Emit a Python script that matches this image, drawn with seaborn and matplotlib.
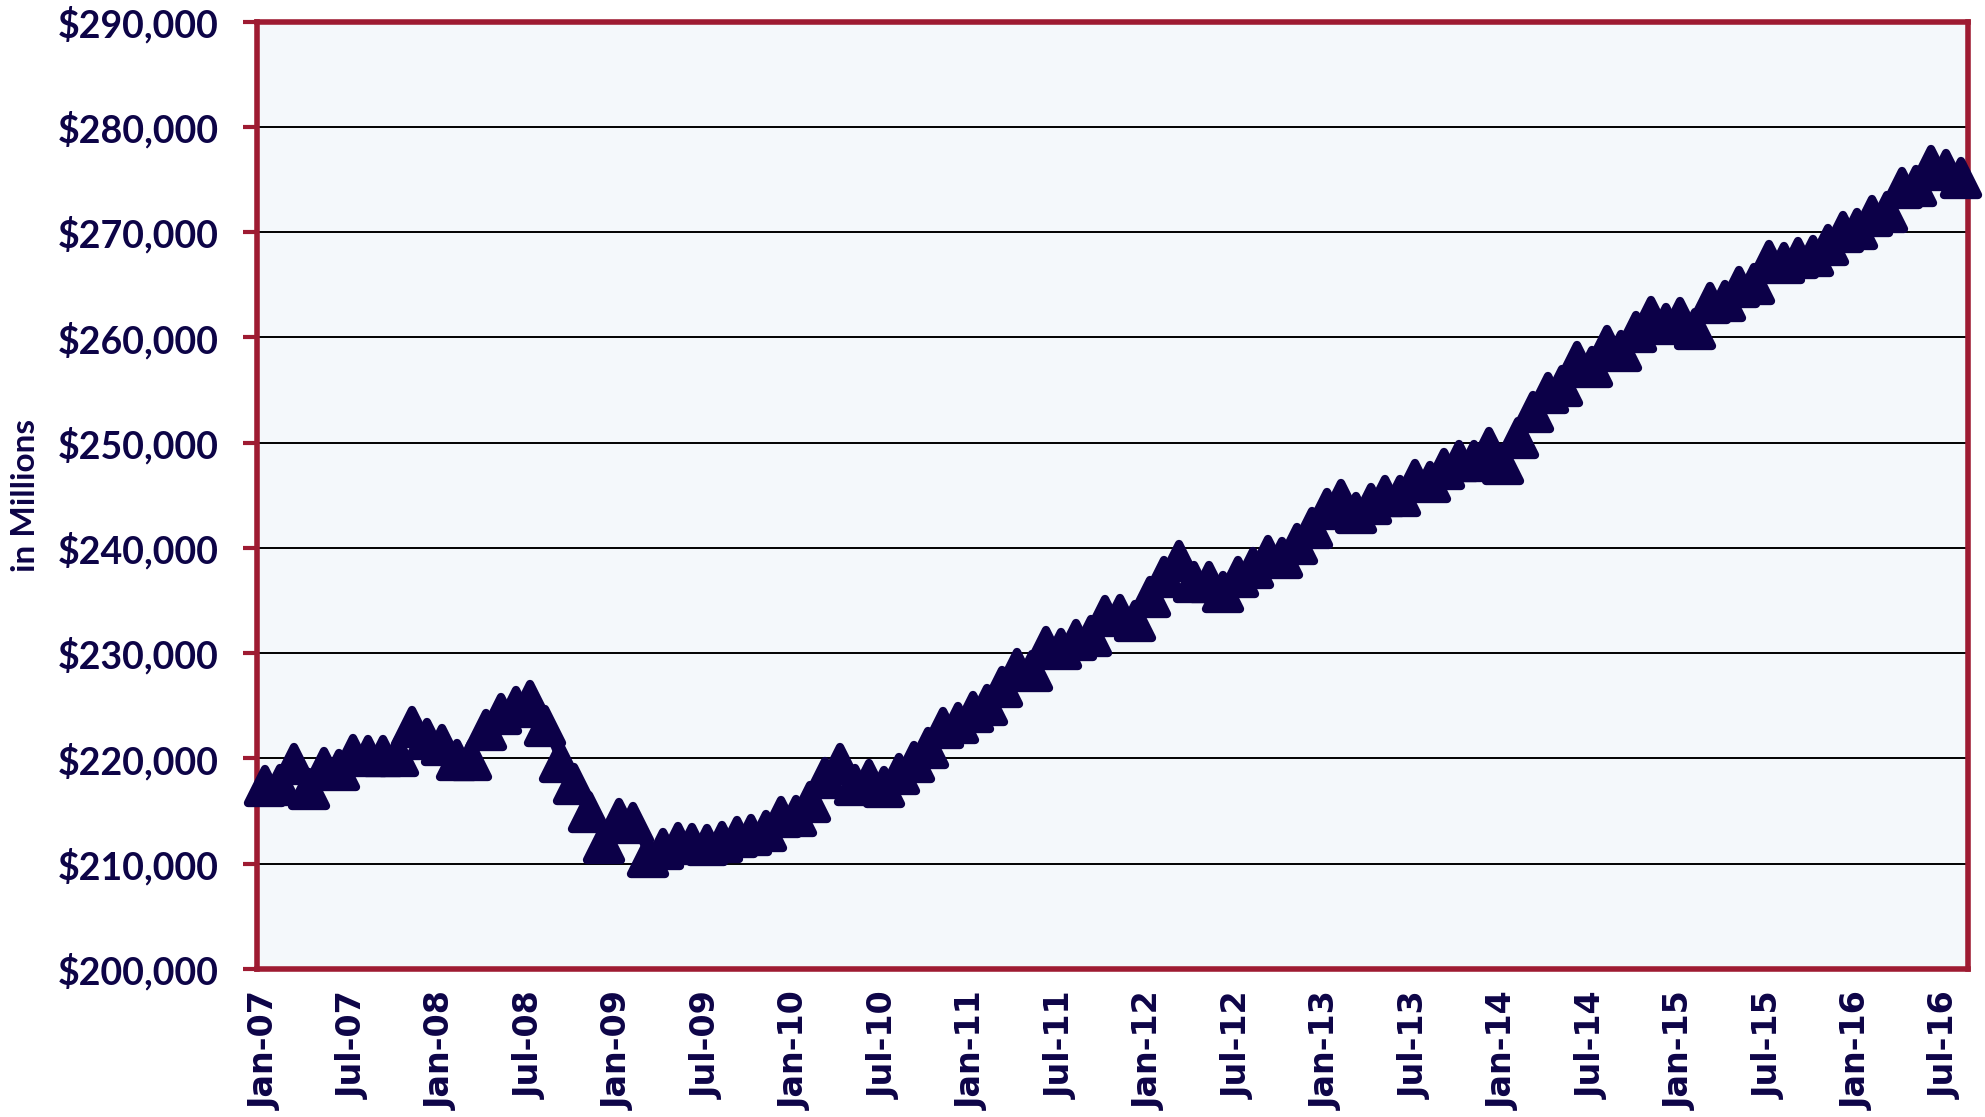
import matplotlib
matplotlib.use('Agg')
import matplotlib.pyplot as plt
import matplotlib.ticker as mticker
import matplotlib.markers as mmarkers
import seaborn as sns
import pandas as pd

# monthly values, Jan-07 .. Aug-16 (in millions)
values_2007 = [217400, 217450, 219450, 217100, 219130, 218900, 220300, 220200, 220200, 220200, 222990, 221880]
values_2008 = [221310, 219830, 219830, 222670, 224250, 224880, 225450, 223050, 219700, 217580, 214900, 211990]
values_2009 = [214270, 213890, 210630, 211420, 211930, 211900, 211750, 212060, 212540, 212700, 213110, 214440]
values_2010 = [214540, 215870, 218100, 219520, 217460, 217940, 217300, 218570, 219680, 220950, 222860, 223330]
values_2011 = [224440, 225080, 226830, 228480, 228290, 230570, 230380, 231210, 231650, 233560, 233650, 233100]
values_2012 = [235350, 237280, 238730, 236770, 236740, 235820, 237280, 238100, 239270, 239050, 240380, 241900]
values_2013 = [243700, 244590, 243360, 244180, 244970, 244970, 246460, 246230, 247470, 248230, 248230, 249490]
values_2014 = [247940, 250440, 252880, 254680, 255410, 257630, 257220, 259210, 258730, 260470, 261900, 261270]
values_2015 = [261840, 260820, 263230, 263420, 264750, 265060, 267280, 267030, 267530, 267750, 268800, 270060]
values_2016 = [270280, 271550, 271960, 274180, 274400, 276300, 275890, 275190]

tick_labels = ['Jan-07', 'Jul-07', 'Jan-08', 'Jul-08', 'Jan-09', 'Jul-09', 'Jan-10', 'Jul-10',
               'Jan-11', 'Jul-11', 'Jan-12', 'Jul-12', 'Jan-13', 'Jul-13', 'Jan-14', 'Jul-14',
               'Jan-15', 'Jul-15', 'Jan-16', 'Jul-16']

NAVY = '#0D0447'
MARKER = '#0C0048'
CRIMSON = '#9E1B32'


def build_frame():
    vals = (values_2007 + values_2008 + values_2009 + values_2010 + values_2011 +
            values_2012 + values_2013 + values_2014 + values_2015 + values_2016)
    return pd.DataFrame({'month': range(len(vals)), 'value': vals})


def plot_line(df):
    sns.set_style('white')
    fig = plt.figure(figsize=(19.85, 11.17), dpi=100)
    ax = fig.add_axes([0.1297, 0.1325, 0.8617, 0.8481])
    ax.set_facecolor('#F4F8FB')

    sns.lineplot(data=df, x='month', y='value', ax=ax, color=MARKER, linewidth=4,
                 marker='^', markersize=24, markeredgecolor=MARKER,
                 markerfacecolor=MARKER, clip_on=False, zorder=5)
    # rounded triangle corners, like the original
    for line in ax.lines:
        line.set_solid_joinstyle('round')
        line.set_marker(mmarkers.MarkerStyle('^', joinstyle='round'))
        line.set_markersize(24)
        line.set_markeredgewidth(6)

    n = len(df)
    ax.set_xlim(-0.5, n - 0.5)
    ax.set_ylim(200000, 290000)
    ax.set_xticks(range(0, n, 6))
    ax.set_xticklabels(tick_labels, rotation=90, fontsize=24, fontweight='bold',
                       color=NAVY, family='DejaVu Sans', va='top')
    ax.yaxis.set_major_locator(mticker.MultipleLocator(10000))
    ax.yaxis.set_major_formatter(mticker.FuncFormatter(lambda v, p: '${:,.0f}'.format(v)))
    for lab in ax.get_yticklabels():
        lab.set_fontfamily('Lato')
        lab.set_fontweight('bold')
        lab.set_fontsize(27)
        lab.set_color(NAVY)

    ax.grid(axis='y', color='black', linewidth=1.4)
    ax.set_axisbelow(True)
    ax.tick_params(axis='y', direction='out', length=10, width=3, color=CRIMSON, pad=18, left=True)
    ax.tick_params(axis='x', length=0, pad=16)
    for side in ['left', 'right', 'top', 'bottom']:
        ax.spines[side].set_visible(True)
        ax.spines[side].set_color(CRIMSON)
        ax.spines[side].set_linewidth(4)

    ax.set_xlabel('')
    ax.set_ylabel('in Millions', fontsize=24, fontweight='bold', color=NAVY, family='Lato')
    ax.yaxis.set_label_coords(-0.127, 0.5)

    fig.savefig('out.png', dpi=100, facecolor='white')


plot_line(build_frame())
